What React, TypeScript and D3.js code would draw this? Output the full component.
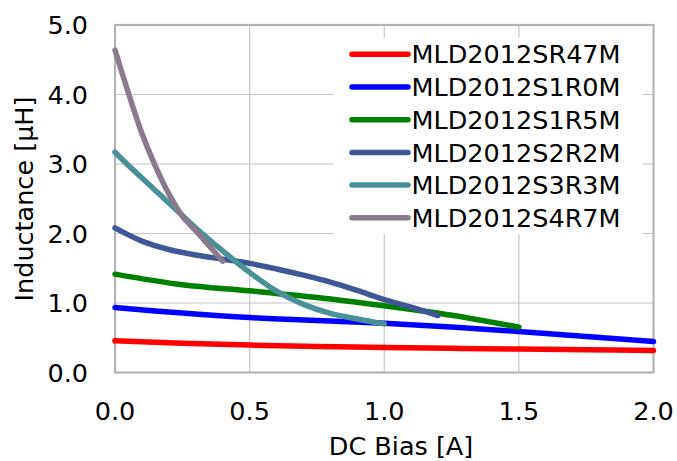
import React from "react";
import * as d3 from "d3";

const seriesNames = ["MLD2012SR47M", "MLD2012S1R0M", "MLD2012S1R5M", "MLD2012S2R2M", "MLD2012S3R3M", "MLD2012S4R7M"];
const seriesColors = ["#ff0000", "#0000ff", "#008000", "#3f5797", "#4a9099", "#8a7b8c"];

const xR47 = [0, 0.25, 0.5, 0.75, 1.0, 1.25, 1.5, 1.75, 2.0];
const yR47 = [0.456, 0.42, 0.394, 0.375, 0.36, 0.348, 0.337, 0.327, 0.317];
const x1R0 = [0, 0.25, 0.5, 0.75, 1.0, 1.25, 1.5, 1.75, 2.0];
const y1R0 = [0.935, 0.855, 0.79, 0.748, 0.71, 0.655, 0.59, 0.518, 0.446];
const x1R5 = [0, 0.25, 0.5, 0.75, 1.0, 1.25, 1.5];
const y1R5 = [1.415, 1.262, 1.175, 1.08, 0.96, 0.825, 0.653];
const x2R2 = [0, 0.1, 0.2, 0.3, 0.4, 0.5, 0.6, 0.7, 0.8, 0.9, 1.0, 1.1, 1.2];
const y2R2 = [2.08, 1.89, 1.77, 1.69, 1.63, 1.57, 1.49, 1.4, 1.3, 1.18, 1.05, 0.94, 0.82];
const x3R3 = [0, 0.05, 0.1, 0.2, 0.3, 0.4, 0.5, 0.6, 0.7, 0.8, 0.9, 1.0];
const y3R3 = [3.17, 2.98, 2.8, 2.44, 2.08, 1.75, 1.44, 1.17, 0.98, 0.85, 0.77, 0.7];
const x4R7 = [0, 0.05, 0.1, 0.15, 0.2, 0.25, 0.3, 0.35, 0.4];
const y4R7 = [4.64, 4.02, 3.44, 2.97, 2.57, 2.25, 2.04, 1.82, 1.6];

const seriesX = [xR47, x1R0, x1R5, x2R2, x3R3, x4R7];
const seriesY = [yR47, y1R0, y1R5, y2R2, y3R3, y4R7];

const xTicks = [0, 0.5, 1.0, 1.5, 2.0];
const yTicks = [0, 1, 2, 3, 4, 5];
const xTitle = "DC Bias [A]";
const yTitle = "Inductance [μH]";

const W = 677;
const H = 461;
const L = 115, R = 653.5, T = 25, B = 372.5;
const FONT = "DejaVu Sans, Verdana, sans-serif";
const FS = 25.5;

export default function App() {
  const x = d3.scaleLinear().domain([0, 2]).range([L, R]);
  const y = d3.scaleLinear().domain([0, 5]).range([B, T]);
  const line = d3
    .line<[number, number]>()
    .x((d) => x(d[0]))
    .y((d) => y(d[1]))
    .curve(d3.curveCatmullRom.alpha(0.5));

  return (
    <svg
      width={W}
      height={H}
      style={{ position: "absolute", left: 0, top: 0, display: "block", background: "#fff" }}
      fontFamily={FONT}
    >
      <rect x={0} y={0} width={W} height={H} fill="#fff" />
      {xTicks.slice(1, -1).map((t) => (
        <line key={"gx" + t} x1={x(t)} x2={x(t)} y1={T} y2={B} stroke="#c6c6c6" strokeWidth={1.2} />
      ))}
      {yTicks.slice(1, -1).map((t) => (
        <line key={"gy" + t} x1={L} x2={R} y1={y(t)} y2={y(t)} stroke="#c6c6c6" strokeWidth={1.2} />
      ))}
      <rect x={L} y={T} width={R - L} height={B - T} fill="none" stroke="#b4b4b4" strokeWidth={2.2} />
      {seriesNames.map((n, i) => {
        const pts = seriesX[i].map((xv, j) => [xv, seriesY[i][j]] as [number, number]);
        return (
          <path
            key={n}
            d={line(pts) || ""}
            fill="none"
            stroke={seriesColors[i]}
            strokeWidth={5.5}
            strokeLinecap="round"
            strokeLinejoin="round"
          />
        );
      })}
      <rect x={334} y={38} width={309} height={196} fill="#fff" />
      {seriesNames.map((n, i) => {
        const ly = 54.3 + i * 32.7;
        return (
          <g key={"lg" + n}>
            <line x1={352} x2={408} y1={ly} y2={ly} stroke={seriesColors[i]} strokeWidth={5.5} strokeLinecap="round" />
            <text x={411.5} y={ly} dy="0.36em" fontSize={FS} fill="#000">
              {n}
            </text>
          </g>
        );
      })}
      {xTicks.map((t) => (
        <text key={"xt" + t} x={x(t)} y={420} textAnchor="middle" fontSize={FS} fill="#000">
          {t.toFixed(1)}
        </text>
      ))}
      {yTicks.map((t) => (
        <text key={"yt" + t} x={88} y={y(t)} dy="0.36em" textAnchor="end" fontSize={FS} fill="#000">
          {t.toFixed(1)}
        </text>
      ))}
      <text x={401} y={455} textAnchor="middle" fontSize={FS} fill="#000">
        {xTitle}
      </text>
      <text transform={`translate(33,199) rotate(-90)`} textAnchor="middle" fontSize={FS} fill="#000">
        {yTitle}
      </text>
    </svg>
  );
}
